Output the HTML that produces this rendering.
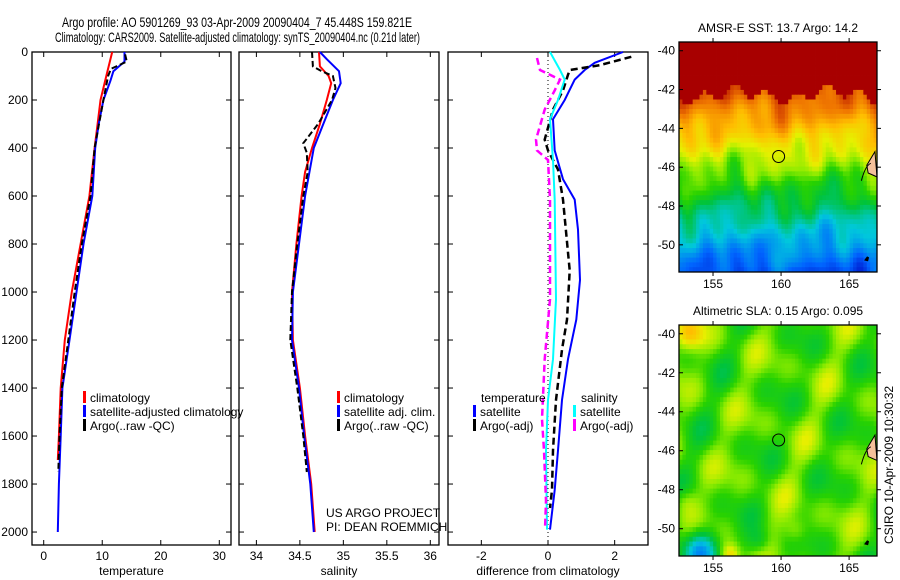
<!DOCTYPE html>
<html><head><meta charset="utf-8"><style>
html,body{margin:0;padding:0;background:#fff;}
svg{display:block;font-family:"Liberation Sans",sans-serif;}
</style></head><body>
<svg id="fig" width="900" height="580" viewBox="0 0 900 580">
<text x="62" y="27" font-size="14" textLength="350" lengthAdjust="spacingAndGlyphs">Argo profile: AO 5901269_93 03-Apr-2009 20090404_7 45.448S 159.821E</text>
<text x="55" y="42" font-size="14" textLength="365" lengthAdjust="spacingAndGlyphs">Climatology: CARS2009. Satellite-adjusted climatology: synTS_20090404.nc (0.21d later)</text>
<g id="p1"></g>
<g id="p2"></g>
<g id="p3"></g>
<g id="m1"></g>
<g id="m2"></g>
<text x="326" y="517" font-size="12">US ARGO PROJECT</text>
<text x="326" y="531" font-size="12">PI: DEAN ROEMMICH</text>
<text transform="translate(893,465) rotate(-90)" text-anchor="middle" font-size="12">CSIRO 10-Apr-2009 10:30:32</text>
</svg>
<script>
// ---- data ----
const tClimDepth = [0,100,200,300,400,600,800,1000,1200,1400,1600,1700];
const tClimVal   = [11.7,10.7,9.7,9.2,8.7,7.8,6.3,4.8,3.6,2.9,2.6,2.4];
const tSatDepth  = [0,40,80,120,200,300,400,600,800,1000,1200,1400,1600,1800,2000];
const tSatVal    = [13.8,13.8,11.9,11.4,10.2,9.4,8.8,8.3,6.8,5.6,4.4,3.2,2.9,2.6,2.4];
const tArgoDepth = [10,40,70,100,200,400,600,800,1000,1200,1400,1600,1750];
const tArgoVal   = [13.9,14.2,11.5,11.0,10.2,8.7,8.0,6.5,5.3,4.2,3.1,2.7,2.5];

const sClimDepth = [0,60,100,130,200,300,400,500,600,800,1000,1200,1400,1600,1800,2000];
const sClimVal   = [34.72,34.73,34.83,34.86,34.81,34.73,34.64,34.56,34.52,34.46,34.41,34.42,34.50,34.56,34.63,34.67];
const sSatDepth  = [0,30,80,130,200,300,400,600,800,1000,1200,1400,1600,1800,2000];
const sSatVal    = [34.73,34.81,34.95,34.97,34.88,34.77,34.66,34.56,34.49,34.42,34.41,34.49,34.55,34.62,34.66];
const sArgoDepth = [0,60,80,100,150,200,300,380,420,500,600,800,1000,1200,1400,1600,1750];
const sArgoVal   = [34.64,34.65,34.75,34.88,34.91,34.87,34.71,34.54,34.58,34.59,34.54,34.47,34.41,34.39,34.47,34.54,34.58];

const dTSatDepth = [0,45,75,115,200,280,410,530,615,740,950,1115,1280,1450,1660,1825,1990];
const dTSatVal   = [2.25,1.4,1.1,0.8,0.5,0.15,0.2,0.45,0.8,0.9,0.96,0.85,0.6,0.42,0.3,0.2,0.06];
const dTArgoDepth= [20,55,75,95,160,240,365,410,490,615,910,1115,1240,1450,1660,1825,1900];
const dTArgoVal  = [2.5,1.55,0.65,0.6,0.45,0.15,-0.1,0.0,0.3,0.45,0.65,0.57,0.42,0.24,0.15,0.12,0.06];
const dSSatDepth = [0,75,115,200,280,450,615,1030,1280,1450,1660,1990];
const dSSatVal   = [0.06,0.36,0.5,0.3,0.06,0.15,0.2,0.24,0.15,0.0,-0.06,-0.03];
const dSArgoDepth= [25,75,115,160,240,365,410,450,615,1030,1280,1530,1660,1870,1990];
const dSArgoVal  = [-0.33,-0.24,0.36,0.2,-0.1,-0.36,-0.33,0.0,0.06,0.06,-0.1,-0.18,-0.12,-0.06,-0.09];

const depthTicks = [0,200,400,600,800,1000,1200,1400,1600,1800,2000];
const tempTicks = [0,10,20,30];
const salTicks = [34,34.5,35,35.5,36];
const diffTicks = [-2,0,2];
const latTicks = [-40,-42,-44,-46,-48,-50];
const lonTicks = [155,160,165];

// ---- helpers ----
const NS='http://www.w3.org/2000/svg';
function mk(parent,tag,attrs,txt){const e=document.createElementNS(NS,tag);for(const k in attrs)e.setAttribute(k,attrs[k]);if(txt!==undefined)e.textContent=txt;parent.appendChild(e);return e;}
const Y0=52,Y1=545,DMAX=2054;
function yD(d){return Y0+(d/DMAX)*(Y1-Y0);}

function panel(g,x0,x1,xmin,xmax,xt,xlabel,showY){
  const xs=v=>x0+(v-xmin)/(xmax-xmin)*(x1-x0);
  const fr=mk(g,'rect',{x:x0,y:Y0,width:x1-x0,height:Y1-Y0,fill:'none',stroke:'#000','stroke-width':1.3});
  
  
  depthTicks.forEach(d=>{
    const y=yD(d);
    mk(g,'line',{x1:x0,y1:y,x2:x0+5,y2:y,stroke:'#000'});
    mk(g,'line',{x1:x1,y1:y,x2:x1-5,y2:y,stroke:'#000'});
    if(showY){const t=mk(g,'text',{x:x0-4,y:y+4,'font-size':12,'text-anchor':'end'},String(d));
      
      }
  });
  xt.forEach(v=>{
    const x=xs(v);
    mk(g,'line',{x1:x,y1:Y1,x2:x,y2:Y1-5,stroke:'#000'});
    mk(g,'line',{x1:x,y1:Y0,x2:x,y2:Y0+5,stroke:'#000'});
    const t=mk(g,'text',{x:x,y:Y1+15,'font-size':12,'text-anchor':'middle'},String(v));
    
    
  });
  const xl=mk(g,'text',{x:(x0+x1)/2,y:Y1+30,'font-size':12,'text-anchor':'middle'},xlabel);
  
  
  return xs;
}
function series(g,xs,depths,vals,color,dash,name,w){
  const pts=depths.map((d,i)=>xs(vals[i]).toFixed(1)+','+yD(d).toFixed(1)).join(' ');
  const p=mk(g,'polyline',{points:pts,fill:'none',stroke:color,'stroke-width':w||2,'stroke-dasharray':dash||'none'});
  
  
}
function legendRow(g,x,y,color,label){
  mk(g,'rect',{x:x,y:y-11,width:3,height:12,fill:color});
  const t=mk(g,'text',{x:x+7,y:y,'font-size':12},label);
  
  
}

// ---- panel 1 ----
const g1=document.getElementById('p1');
const x1s=panel(g1,32,231,-2,32,tempTicks,'temperature',true);
series(g1,x1s,tClimDepth,tClimVal,'#f00',null,'temp-climatology-line');
series(g1,x1s,tSatDepth,tSatVal,'#00f',null,'temp-satellite-line');
series(g1,x1s,tArgoDepth,tArgoVal,'#000','6 3','temp-argo-line');
legendRow(g1,83,402,'#f00','climatology');
legendRow(g1,83,416,'#00f','satellite-adjusted climatology');
legendRow(g1,83,430,'#000','Argo(..raw -QC)');

// ---- panel 2 ----
const g2=document.getElementById('p2');
const x2s=panel(g2,239,439,33.8,36.1,salTicks,'salinity',false);
series(g2,x2s,sClimDepth,sClimVal,'#f00',null,'sal-climatology-line');
series(g2,x2s,sSatDepth,sSatVal,'#00f',null,'sal-satellite-line');
series(g2,x2s,sArgoDepth,sArgoVal,'#000','6 3','sal-argo-line');
legendRow(g2,337,402,'#f00','climatology');
legendRow(g2,337,416,'#00f','satellite adj. clim.');
legendRow(g2,337,430,'#000','Argo(..raw -QC)');

// ---- panel 3 ----
const g3=document.getElementById('p3');
const x3s=panel(g3,448,648,-3,3,diffTicks,'difference from climatology',false);
mk(g3,'line',{x1:x3s(0),y1:Y0,x2:x3s(0),y2:Y1,stroke:'#000','stroke-dasharray':'1 3'});
series(g3,x3s,dTSatDepth,dTSatVal,'#00f',null,'diff-temp-satellite-line');
series(g3,x3s,dTArgoDepth,dTArgoVal,'#000','7 4','diff-temp-argo-line',2.5);
series(g3,x3s,dSSatDepth,dSSatVal,'#0ff',null,'diff-sal-satellite-line');
series(g3,x3s,dSArgoDepth,dSArgoVal,'#f0f','7 4','diff-sal-argo-line',2.5);
mk(g3,'text',{x:481,y:402,'font-size':12},'temperature');
mk(g3,'text',{x:581,y:402,'font-size':12},'salinity');
legendRow(g3,473,416,'#00f','satellite');
legendRow(g3,473,430,'#000','Argo(-adj)');
legendRow(g3,573,416,'#0ff','satellite');
legendRow(g3,573,430,'#f0f','Argo(-adj)');

// ---- maps ----
const cmapStops=[[0,[0,0,190]],[0.15,[0,100,255]],[0.3,[0,200,220]],[0.42,[0,195,60]],[0.5,[40,210,0]],[0.56,[140,235,0]],[0.63,[230,240,0]],[0.72,[255,190,0]],[0.82,[240,120,0]],[0.9,[205,55,0]],[1,[168,0,0]]];
function cmap(v){v=Math.max(0,Math.min(1,v));
  for(let i=1;i<cmapStops.length;i++){if(v<=cmapStops[i][0]){const a=cmapStops[i-1],b=cmapStops[i],f=(v-a[0])/(b[0]-a[0]);
    return 'rgb('+a[1].map((c,k)=>Math.round(c+(b[1][k]-c)*f)).join(',')+')';}}
  return 'rgb(168,0,0)';}
function blob(u,t,cu,ct,r){const d=((u-cu)**2+(t-ct)**2)/(r*r);return Math.exp(-d);}
function map(g,top,bot,title,field){
  const L=679,R=877,lon0=152.5,lon1=167.05,latTop=-39.55,latBot=-51.4;
  const ys=lat=>top+(lat-latTop)/(latBot-latTop)*(bot-top);
  const xs=lon=>L+(lon-lon0)/(lon1-lon0)*(R-L);
  const cols=58,rows=48,cw=(R-L)/cols,ch=(bot-top)/rows;
  for(let i=0;i<rows;i++)for(let j=0;j<cols;j++){
    mk(g,'rect',{x:(L+j*cw).toFixed(2),y:(top+i*ch).toFixed(2),width:(cw+0.4).toFixed(2),height:(ch+0.4).toFixed(2),fill:cmap(field(j/cols,i/rows))});
  }
  mk(g,'path',{d:`M${xs(166.9)},${ys(-45.2)} L${xs(166.3)},${ys(-45.9)} L${xs(166.4)},${ys(-46.3)} L${xs(167.05)},${ys(-46.5)} Z`,fill:'#f4c09a',stroke:'#000'});
  mk(g,'path',{d:`M${xs(165.9)},${ys(-46.7)} Q${xs(166.2)},${ys(-45.9)} ${xs(166.6)},${ys(-45.8)}`,fill:'none',stroke:'#000'});
  mk(g,'path',{d:`M${xs(166.1)},${ys(-50.8)} l3,-4 l2,1 l-1,4 z`,fill:'#000'});
  const c=mk(g,'circle',{cx:xs(159.821),cy:ys(-45.448),r:6,fill:'none',stroke:'#000'});
  
  
  mk(g,'rect',{x:L,y:top,width:R-L,height:bot-top,fill:'none',stroke:'#000','stroke-width':1.3});
  latTicks.forEach(lat=>{const y=ys(lat);
    mk(g,'line',{x1:L,y1:y,x2:L+4,y2:y,stroke:'#000'});mk(g,'line',{x1:R,y1:y,x2:R+4,y2:y,stroke:'#000'});
    const t=mk(g,'text',{x:L-4,y:y+4,'font-size':12,'text-anchor':'end'},String(lat));
    
    });
  lonTicks.forEach(lon=>{const x=xs(lon);
    mk(g,'line',{x1:x,y1:bot,x2:x,y2:bot+4,stroke:'#000'});mk(g,'line',{x1:x,y1:top,x2:x,y2:top-4,stroke:'#000'});
    const t=mk(g,'text',{x:x,y:bot+16,'font-size':12,'text-anchor':'middle'},String(lon));
    
    });
  const tt=mk(g,'text',{x:(L+R)/2,y:top-10,'font-size':12,'text-anchor':'middle'},title);
  
  
}
function sst(u,t){
  const b=0.22+0.025*Math.sin(u*40)+0.02*Math.sin(u*13+1);
  if(t<b) return 1;
  const n=0.025*Math.sin(u*23+t*9)+0.02*Math.sin(u*51-t*17)+0.02*Math.sin(t*31+u*7);
  return 0.86-(t-b)*0.95+n;
}
function sla(u,t){
  let v=0.52+0.045*Math.sin(u*17+t*7)+0.04*Math.sin(u*8-t*22+1)+0.03*Math.sin(u*29+t*13+2);
  v-=0.3*blob(u,t,0.1,0.97,0.09);
  v+=0.2*blob(u,t,0.25,0.99,0.05);
  v+=0.15*blob(u,t,0.05,0.03,0.07);
  v-=0.12*blob(u,t,0.4,0.93,0.06);
  v+=0.1*blob(u,t,0.58,0.88,0.06);
  v+=0.08*blob(u,t,0.02,0.75,0.06);
  return v;
}
map(document.getElementById('m1'),42,272,'AMSR-E SST: 13.7 Argo: 14.2',sst);
map(document.getElementById('m2'),325,556,'Altimetric SLA: 0.15 Argo: 0.095',sla);
</script>
</body></html>
